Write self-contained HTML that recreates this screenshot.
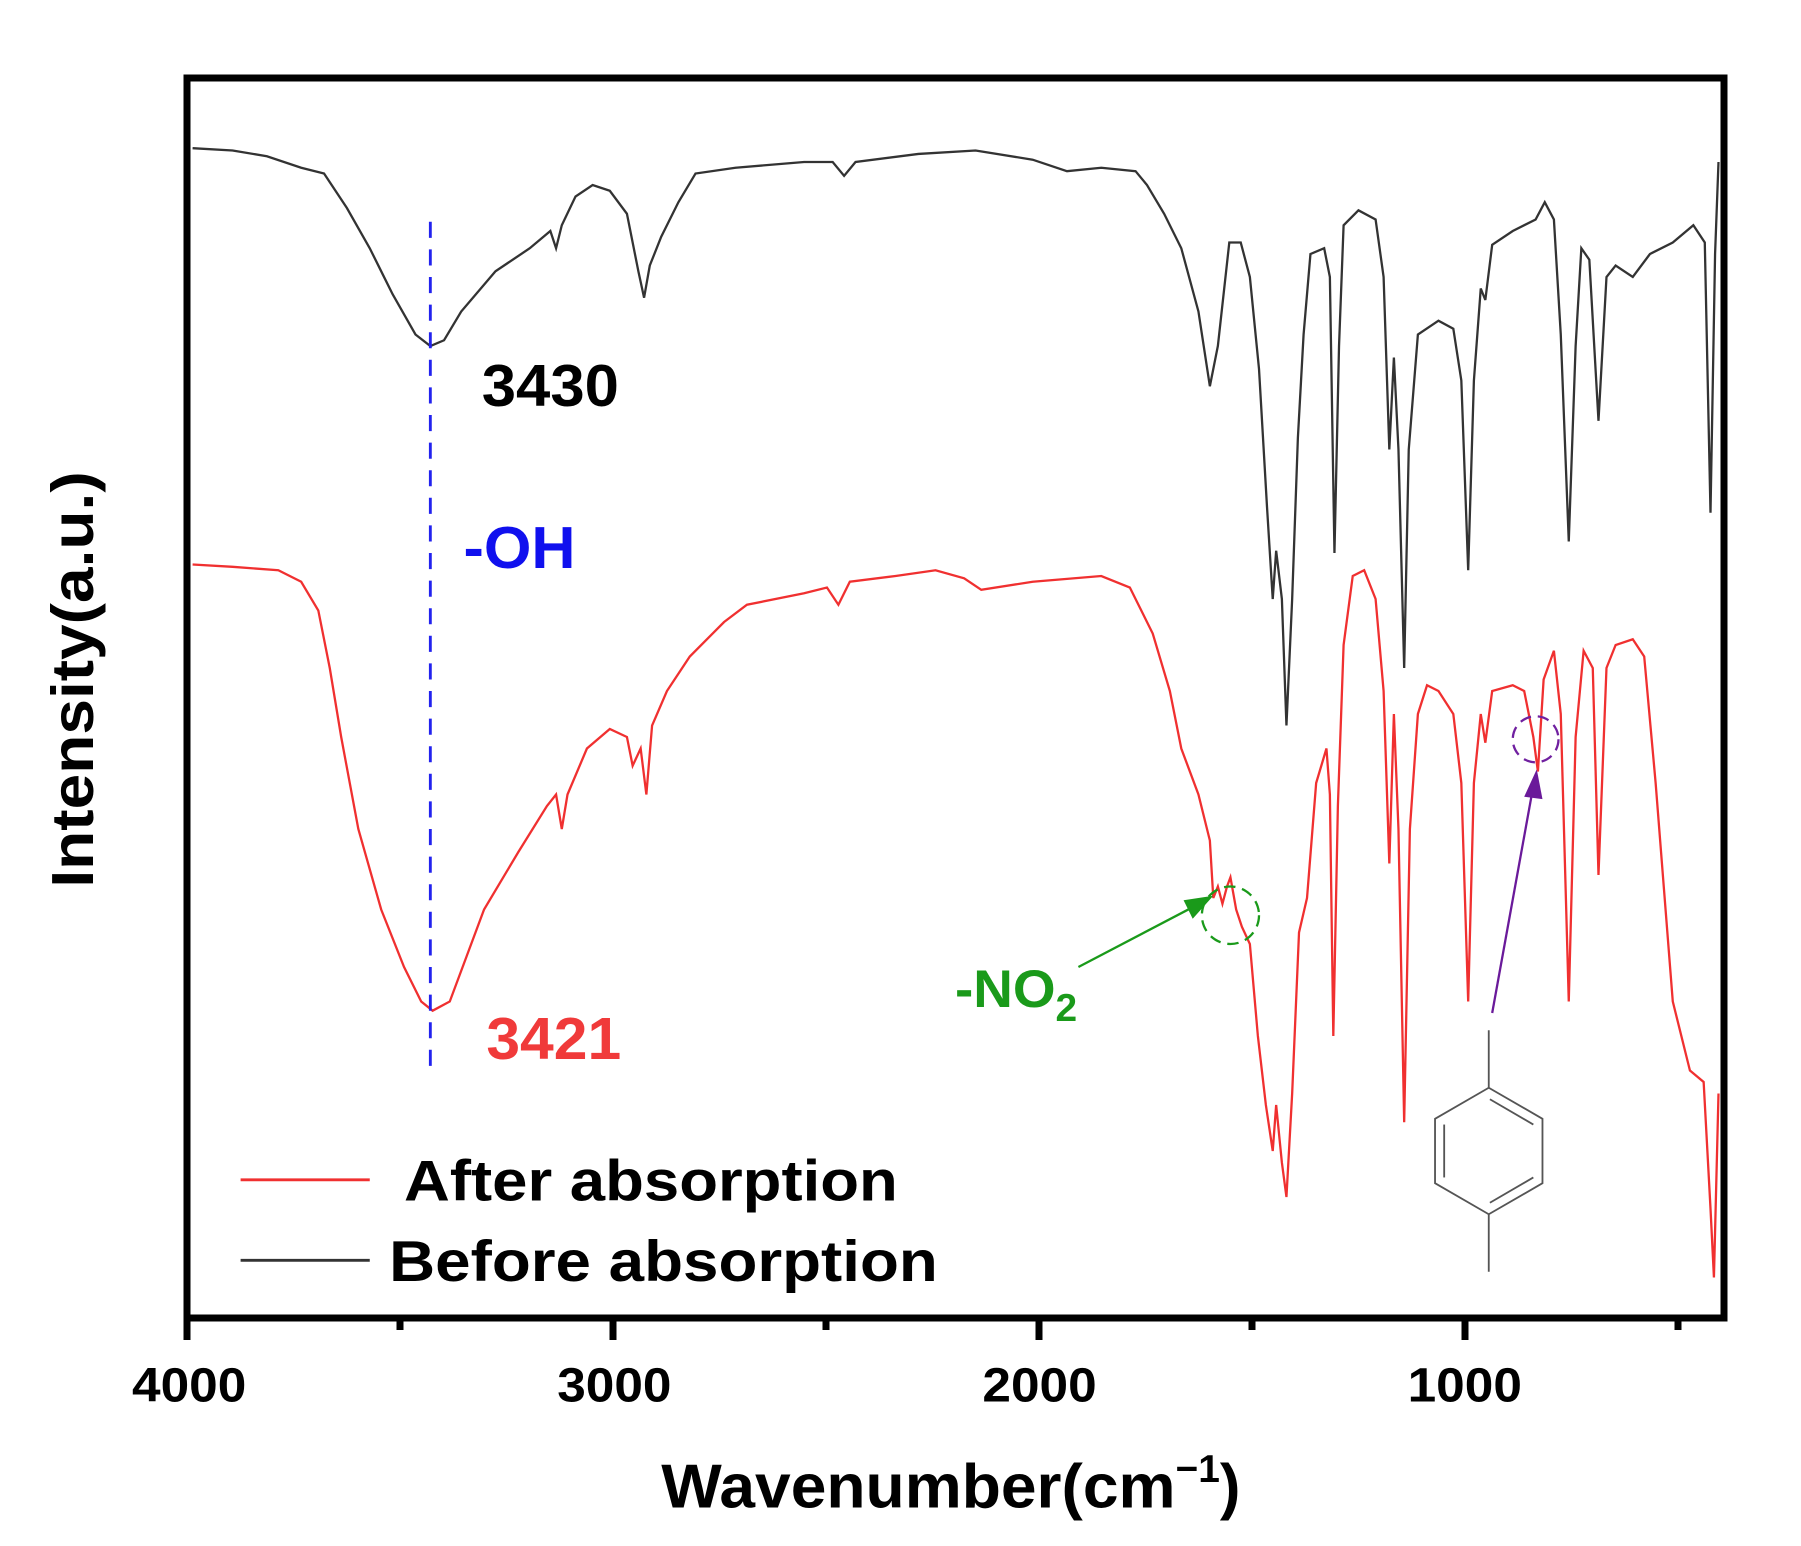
<!DOCTYPE html>
<html><head><meta charset="utf-8"><style>html,body{margin:0;padding:0;background:#fff}svg{display:block}</style></head>
<body>
<svg width="1801" height="1546" viewBox="0 0 1801 1546" xmlns="http://www.w3.org/2000/svg" font-family="Liberation Sans, Arial, sans-serif" font-weight="bold">
<g transform="translate(4,1) scale(1.143,1.15)">
<polyline fill="none" stroke="#333" stroke-width="2" points="165,128 200,130 230,135 260,145 280,150 300,180 320,215 340,255 360,290 373,300 385,295 400,270 430,235 460,215 478,200 483,215 488,195 500,170 515,160 530,165 545,185 555,235 560,258 565,230 575,205 590,175 605,150 640,145 700,140 725,140 735,152 745,140 800,133 850,130 900,138 930,148 960,145 990,148 1000,160 1015,185 1030,215 1045,270 1055,335 1062,300 1072,210 1082,210 1090,240 1098,320 1105,440 1110,520 1113,478 1118,520 1122,630 1127,520 1132,380 1137,290 1143,220 1155,215 1160,240 1164,480 1168,300 1172,195 1185,182 1200,190 1207,240 1212,390 1216,310 1220,390 1225,580 1229,390 1237,290 1255,278 1268,285 1275,330 1281,495 1286,330 1292,250 1296,260 1302,212 1320,200 1340,190 1348,175 1356,190 1362,290 1369,470 1375,300 1380,215 1387,225 1395,365 1402,240 1410,230 1425,240 1440,220 1460,210 1478,195 1488,210 1493,445 1497,220 1500,140"/>
<polyline fill="none" stroke="#f03030" stroke-width="2" points="165,490 200,492 240,495 260,505 275,530 285,580 295,640 310,720 330,790 350,840 365,870 375,878 390,870 405,830 420,790 450,740 475,700 483,690 488,720 493,690 510,650 530,633 545,640 550,665 557,650 562,690 567,630 580,600 600,570 630,540 650,525 700,515 720,510 730,525 740,505 780,500 815,495 840,502 855,512 900,505 960,500 985,510 1005,550 1020,600 1030,650 1045,690 1055,730 1058,780 1062,770 1066,785 1070,770 1073,762 1078,790 1083,805 1090,820 1097,900 1104,960 1110,1000 1113,960 1118,1010 1122,1040 1127,950 1133,810 1140,780 1148,680 1157,650 1160,690 1163,900 1167,700 1172,560 1180,500 1190,495 1200,520 1207,600 1212,750 1216,620 1220,720 1225,975 1230,720 1237,620 1245,595 1255,600 1268,620 1275,680 1281,870 1286,680 1292,620 1296,645 1302,600 1320,595 1330,600 1338,640 1342,670 1347,590 1356,565 1362,620 1369,870 1375,640 1382,565 1390,580 1395,760 1402,580 1410,560 1425,555 1435,570 1445,680 1460,870 1475,930 1487,940 1493,1050 1496,1110 1500,950"/>
<line x1="373" y1="192" x2="373" y2="928" stroke="#2222ee" stroke-width="2.5" stroke-dasharray="14,10"/>
<text x="418" y="352" font-size="52" textLength="120" lengthAdjust="spacingAndGlyphs" fill="#000">3430</text>
<text x="402" y="493" font-size="52" textLength="98" lengthAdjust="spacingAndGlyphs" fill="#1010ee">-OH</text>
<text x="422" y="920" font-size="52" textLength="118" lengthAdjust="spacingAndGlyphs" fill="#f03a3a">3421</text>
<line x1="207" y1="1025" x2="320" y2="1025" stroke="#f03030" stroke-width="2.5"/>
<text x="350" y="1043" font-size="50" textLength="432" lengthAdjust="spacingAndGlyphs" fill="#000">After absorption</text>
<line x1="207" y1="1095" x2="320" y2="1095" stroke="#333" stroke-width="2.5"/>
<text x="337" y="1113" font-size="50" textLength="480" lengthAdjust="spacingAndGlyphs" fill="#000">Before absorption</text>
<text x="832" y="875" font-size="46" fill="#1a9a1a"><tspan textLength="88" lengthAdjust="spacingAndGlyphs">-NO</tspan><tspan font-size="34" dy="12">2</tspan></text>
<line x1="940" y1="840" x2="1040" y2="788" stroke="#1a9a1a" stroke-width="2"/>
<polygon points="1058,778 1032,782 1040,798" fill="#1a9a1a"/>
<circle cx="1073" cy="795" r="25" fill="none" stroke="#1a9a1a" stroke-width="2" stroke-dasharray="10,6"/>
<circle cx="1340" cy="642" r="20" fill="none" stroke="#7020a0" stroke-width="2" stroke-dasharray="10,6"/>
<line x1="1302" y1="880" x2="1337" y2="688" stroke="#6a1a9a" stroke-width="2"/>
<polygon points="1341,668 1330,692 1346,694" fill="#6a1a9a"/>
<g stroke="#555" stroke-width="1.6" fill="none">
<line x1="1299" y1="895" x2="1299" y2="945"/>
<line x1="1299" y1="1055" x2="1299" y2="1105"/>
<polygon points="1299,945 1346,972 1346,1028 1299,1055 1252,1028 1252,972"/>
<line x1="1300" y1="955" x2="1338" y2="977"/>
<line x1="1338" y1="1023" x2="1300" y2="1045"/>
<line x1="1260" y1="977" x2="1260" y2="1023"/>
</g>
<g font-size="42" text-anchor="middle" fill="#000">
<text x="162" y="1218" textLength="100" lengthAdjust="spacingAndGlyphs">4000</text>
<text x="534" y="1218" textLength="100" lengthAdjust="spacingAndGlyphs">3000</text>
<text x="906" y="1218" textLength="100" lengthAdjust="spacingAndGlyphs">2000</text>
<text x="1278" y="1218" textLength="100" lengthAdjust="spacingAndGlyphs">1000</text>
</g>
<text x="575" y="1310" font-size="54" fill="#000"><tspan textLength="450" lengthAdjust="spacingAndGlyphs">Wavenumber(cm</tspan><tspan font-size="34" dy="-22">−1</tspan><tspan dy="22">)</tspan></text>
<text transform="translate(78,590) rotate(-90)" font-size="52" text-anchor="middle" textLength="362" lengthAdjust="spacingAndGlyphs" fill="#000">Intensity(a.u.)</text>
</g>
<rect x="187" y="78" width="1537" height="1240" fill="none" stroke="#000" stroke-width="7"/>
<g stroke="#000" stroke-width="7">
<line x1="187" y1="1318" x2="187" y2="1340"/>
<line x1="613" y1="1318" x2="613" y2="1340"/>
<line x1="1039" y1="1318" x2="1039" y2="1340"/>
<line x1="1465" y1="1318" x2="1465" y2="1340"/>
<line x1="400" y1="1318" x2="400" y2="1330"/>
<line x1="826" y1="1318" x2="826" y2="1330"/>
<line x1="1252" y1="1318" x2="1252" y2="1330"/>
<line x1="1678" y1="1318" x2="1678" y2="1330"/>
</g>
</svg>
</body></html>
